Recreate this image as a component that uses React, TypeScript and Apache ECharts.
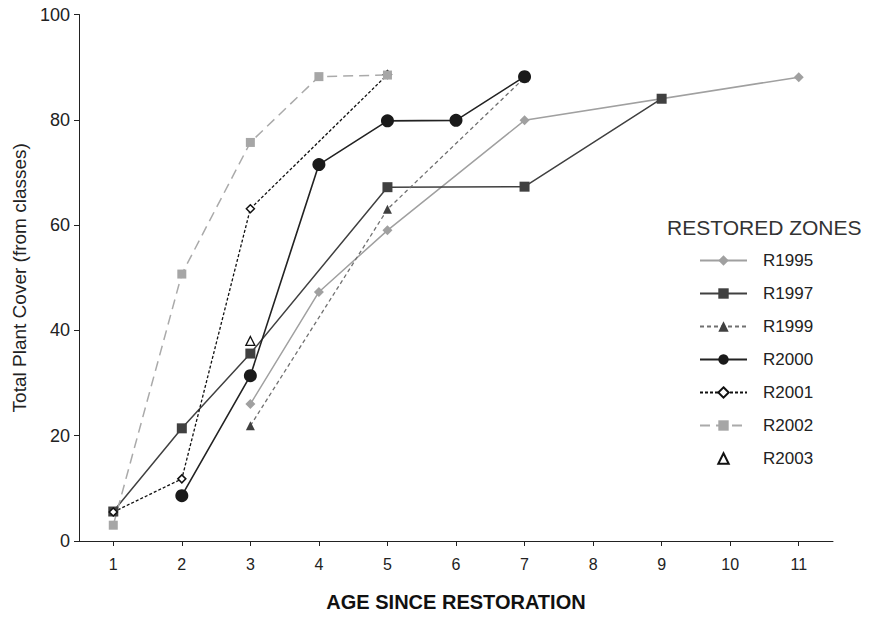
import React, { useEffect, useRef } from "react";
import * as echarts from "echarts";

const ageTicks = [1, 2, 3, 4, 5, 6, 7, 8, 9, 10, 11];
const coverTicks = [0, 20, 40, 60, 80, 100];

const r1995Ages = [3, 4, 5, 7, 11];
const r1995Cover = [26.0, 47.3, 59.0, 79.9, 88.1];
const r1997Ages = [1, 2, 3, 5, 7, 9];
const r1997Cover = [5.6, 21.4, 35.6, 67.2, 67.3, 84.0];
const r1999Ages = [3, 5, 7];
const r1999Cover = [21.9, 63.0, 88.0];
const r2000Ages = [2, 3, 4, 5, 6, 7];
const r2000Cover = [8.6, 31.4, 71.5, 79.8, 79.9, 88.2];
const r2001Ages = [1, 2, 3, 5];
const r2001Cover = [5.5, 11.8, 63.1, 88.6];
const r2002Ages = [1, 2, 3, 4, 5];
const r2002Cover = [3.0, 50.7, 75.7, 88.2, 88.5];
const r2003Ages = [3];
const r2003Cover = [38.0];

const zip = (a: number[], b: number[]) => a.map((x, i) => [x, b[i]]);

export default function App() {
  const ref = useRef<HTMLDivElement>(null);
  useEffect(() => {
    document.body.style.margin = "0";
    const chart = echarts.init(ref.current!, null, { renderer: "svg" });
    const font = "'Liberation Sans', Arial, sans-serif";
    const lineSeries = (
      name: string,
      ages: number[],
      cover: number[],
      symbol: string,
      symbolSize: number,
      color: string,
      lineColor: string,
      type: any,
      width: number,
      itemStyle: any = {},
      opacity = 1
    ) => ({
      name,
      type: "line",
      data: zip(ages, cover),
      symbol,
      symbolSize,
      itemStyle: { color, ...itemStyle },
      lineStyle: { color: lineColor, width, type, opacity },
      emphasis: { disabled: true },
    });
    const names = ["R1995", "R1997", "R1999", "R2000", "R2001", "R2002", "R2003"];
    chart.setOption({
      animation: false,
      textStyle: { fontFamily: font },
      title: {
        text: "RESTORED ZONES",
        left: 667,
        top: 217,
        padding: 0,
        textStyle: { fontSize: 21, fontWeight: "normal", color: "#333", fontFamily: font },
      },
      legend: {
        orient: "vertical",
        left: 699,
        top: 252,
        padding: 0,
        itemWidth: 47,
        itemHeight: 13,
        itemGap: 16,
        textStyle: { fontSize: 17, color: "#222", fontFamily: font, padding: [0, 0, 0, 11] },
        data: names.map((n) =>
          n === "R2003" ? { name: n, lineStyle: { opacity: 0 } } : { name: n }
        ),
      },
      grid: { left: 79, right: 39, top: 14.5, bottom: 75, containLabel: false },
      xAxis: {
        type: "value",
        min: 0.5,
        max: 11.5,
        splitLine: { show: false },
        axisLine: { lineStyle: { color: "#222", width: 1 } },
        axisTick: { customValues: ageTicks, length: 5, lineStyle: { color: "#222" } },
        axisLabel: {
          customValues: ageTicks,
          fontSize: 16,
          color: "#222",
          margin: 15,
          fontFamily: font,
        },
        name: "AGE SINCE RESTORATION",
        nameLocation: "middle",
        nameGap: 51,
        nameTextStyle: {
          fontSize: 20,
          fontWeight: "bold",
          color: "#111",
          fontFamily: font,
        },
      },
      yAxis: {
        type: "value",
        min: 0,
        max: 100,
        interval: 20,
        splitLine: { show: false },
        axisLine: { show: true, lineStyle: { color: "#222", width: 1 } },
        axisTick: { show: true, length: 5, lineStyle: { color: "#222" } },
        axisLabel: { fontSize: 18, color: "#222", margin: 9 },
        name: "Total Plant Cover (from classes)",
        nameLocation: "middle",
        nameGap: 49,
        nameTextStyle: { fontSize: 19, color: "#222" },
      },
      series: [
        lineSeries("R1995", r1995Ages, r1995Cover, "diamond", 10, "#a0a0a0", "#a0a0a0", "solid", 1.5),
        lineSeries("R1997", r1997Ages, r1997Cover, "rect", 10, "#404040", "#404040", "solid", 1.5),
        lineSeries("R1999", r1999Ages, r1999Cover, "triangle", 9, "#404040", "#707070", [4, 3], 1.3),
        lineSeries("R2000", r2000Ages, r2000Cover, "circle", 13, "#1a1a1a", "#222", "solid", 1.6),
        lineSeries("R2001", r2001Ages, r2001Cover, "diamond", 8, "#ffffff", "#111", [3, 2], 1.3, {
          borderColor: "#111",
          borderWidth: 1.5,
        }),
        lineSeries("R2002", r2002Ages, r2002Cover, "rect", 9, "#a6a6a6", "#aaaaaa", [10, 6], 1.5),
        lineSeries("R2003", r2003Ages, r2003Cover, "triangle", 9, "#ffffff", "#111", "solid", 1, {
          borderColor: "#111",
          borderWidth: 1.3,
        }, 0),
      ],
    });
    return () => chart.dispose();
  }, []);
  return <div ref={ref} style={{ width: 872, height: 617 }} />;
}
